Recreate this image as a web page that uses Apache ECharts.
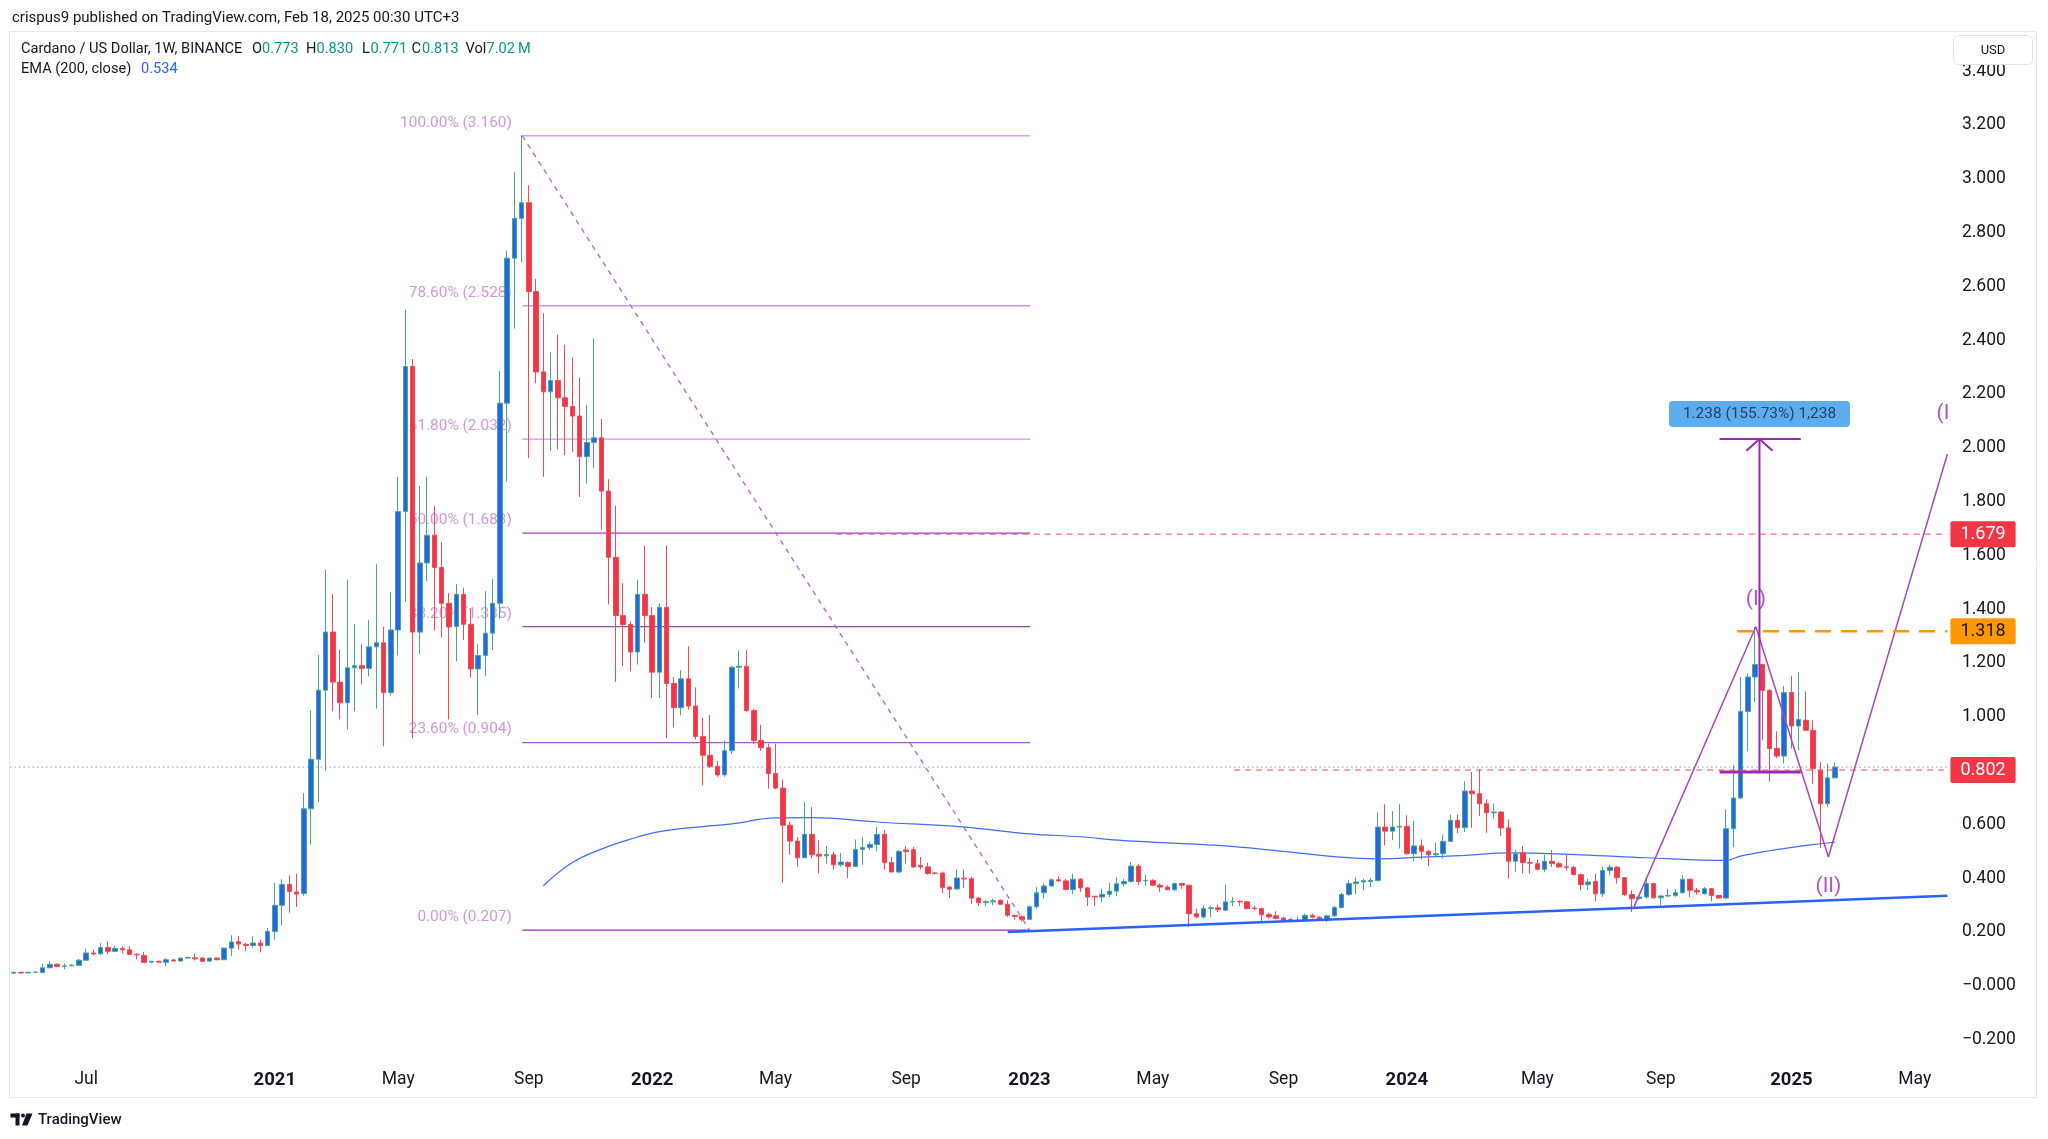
<!DOCTYPE html>
<html><head><meta charset="utf-8">
<script src="https://cdn.jsdelivr.net/npm/echarts@6/dist/echarts.min.js"></script>
<style>html,body{margin:0;padding:0;background:#fff}#c{width:2048px;height:1139px}</style>
</head><body><div id="c"></div>
<script>
// ---------- DATA ----------
const firstWeek = '2020-04-27';      // first weekly bar (Monday)
const weekSlots = 267;               // bars + empty future weeks on the axis
const tickLabels = [
  ['2020-07-06','Jul'],['2021-01-04','2021'],['2021-05-03','May'],['2021-09-06','Sep'],
  ['2022-01-03','2022'],['2022-05-02','May'],['2022-09-05','Sep'],['2023-01-02','2023'],
  ['2023-05-01','May'],['2023-09-04','Sep'],['2024-01-01','2024'],['2024-05-06','May'],
  ['2024-09-02','Sep'],['2025-01-06','2025'],['2025-05-05','May']
];
const opens = [0.047,0.050,0.048,0.050,0.049,0.067,0.080,0.073,0.075,0.076,
0.095,0.122,0.119,0.142,0.128,0.139,0.134,0.117,0.113,0.088,
0.091,0.087,0.096,0.092,0.103,0.104,0.103,0.092,0.103,0.097,
0.140,0.164,0.154,0.150,0.159,0.150,0.202,0.299,0.377,0.349,
0.343,0.658,0.842,1.099,1.315,1.129,1.052,1.182,1.190,1.180,
1.260,1.275,1.090,1.323,1.763,2.302,1.315,1.572,1.675,1.555,
1.422,1.336,1.455,1.344,1.178,1.228,1.311,1.422,2.166,2.705,
2.853,2.911,2.581,2.282,2.208,2.250,2.186,2.154,2.118,1.967,
2.020,2.037,1.839,1.593,1.376,1.343,1.241,1.455,1.376,1.166,
1.407,1.124,1.034,1.141,1.040,0.927,0.857,0.816,0.784,0.874,
1.184,1.188,1.023,0.912,0.885,0.789,0.735,0.597,0.538,0.476,
0.563,0.489,0.483,0.487,0.450,0.458,0.444,0.507,0.514,0.525,
0.563,0.458,0.423,0.505,0.506,0.448,0.442,0.419,0.419,0.367,
0.360,0.400,0.398,0.326,0.309,0.312,0.318,0.303,0.262,0.257,
0.247,0.294,0.346,0.371,0.394,0.390,0.358,0.396,0.364,0.333,
0.330,0.340,0.352,0.379,0.388,0.445,0.390,0.392,0.374,0.367,
0.357,0.380,0.374,0.268,0.256,0.287,0.290,0.281,0.312,0.314,
0.312,0.289,0.287,0.266,0.260,0.252,0.246,0.244,0.243,0.262,
0.255,0.243,0.260,0.291,0.339,0.380,0.386,0.388,0.391,0.590,
0.575,0.590,0.593,0.491,0.520,0.500,0.487,0.491,0.537,0.615,
0.588,0.724,0.714,0.677,0.643,0.646,0.587,0.463,0.495,0.458,
0.454,0.433,0.463,0.454,0.442,0.440,0.413,0.376,0.388,0.342,
0.429,0.441,0.402,0.339,0.324,0.330,0.380,0.327,0.334,0.336,
0.346,0.396,0.355,0.342,0.361,0.336,0.326,0.584,0.698,1.020,
1.148,1.194,1.098,0.882,0.854,1.090,0.966,0.987,0.950,0.801,
0.677,0.773];
const closes = [0.050,0.048,0.050,0.051,0.067,0.080,0.072,0.074,0.077,0.095,
0.122,0.118,0.142,0.128,0.139,0.134,0.117,0.115,0.087,0.091,
0.088,0.097,0.092,0.103,0.105,0.100,0.091,0.103,0.097,0.140,
0.163,0.155,0.150,0.159,0.150,0.202,0.299,0.377,0.351,0.341,
0.658,0.842,1.099,1.315,1.129,1.052,1.182,1.190,1.180,1.260,
1.275,1.090,1.323,1.763,2.302,1.315,1.572,1.675,1.555,1.422,
1.334,1.455,1.344,1.178,1.228,1.311,1.422,2.166,2.705,2.853,
2.911,2.581,2.282,2.208,2.250,2.186,2.154,2.118,1.967,2.020,
2.037,1.839,1.593,1.376,1.343,1.241,1.455,1.376,1.166,1.407,
1.124,1.034,1.141,1.040,0.927,0.857,0.816,0.784,0.874,1.184,
1.188,1.023,0.912,0.885,0.789,0.735,0.597,0.538,0.476,0.563,
0.487,0.482,0.488,0.450,0.460,0.444,0.507,0.514,0.525,0.563,
0.458,0.423,0.500,0.499,0.442,0.442,0.417,0.418,0.365,0.359,
0.401,0.397,0.326,0.309,0.313,0.316,0.303,0.262,0.257,0.247,
0.294,0.346,0.371,0.394,0.390,0.358,0.396,0.364,0.330,0.330,
0.340,0.352,0.379,0.388,0.445,0.388,0.392,0.374,0.367,0.357,
0.380,0.374,0.268,0.256,0.287,0.290,0.283,0.312,0.314,0.312,
0.287,0.287,0.264,0.256,0.250,0.243,0.244,0.242,0.262,0.255,
0.246,0.260,0.291,0.339,0.380,0.386,0.391,0.392,0.590,0.575,
0.590,0.593,0.491,0.520,0.500,0.487,0.491,0.537,0.615,0.588,
0.724,0.714,0.677,0.643,0.646,0.587,0.463,0.491,0.458,0.456,
0.433,0.463,0.454,0.442,0.440,0.413,0.376,0.386,0.342,0.429,
0.441,0.402,0.339,0.324,0.330,0.380,0.327,0.334,0.336,0.346,
0.396,0.355,0.349,0.361,0.336,0.326,0.584,0.698,1.020,1.148,
1.194,1.098,0.882,0.854,1.090,0.966,0.990,0.950,0.807,0.677,
0.773,0.813];
const highs = [0.053,0.051,0.054,0.053,0.082,0.091,0.083,0.083,0.080,0.100,
0.138,0.134,0.159,0.165,0.149,0.147,0.147,0.121,0.126,0.093,
0.093,0.103,0.100,0.106,0.109,0.120,0.107,0.106,0.105,0.143,
0.188,0.185,0.160,0.184,0.171,0.215,0.383,0.396,0.411,0.417,
0.716,1.023,1.230,1.547,1.455,1.250,1.510,1.345,1.270,1.360,
1.567,1.335,1.464,1.892,2.513,2.330,1.859,1.892,1.783,1.650,
1.460,1.494,1.480,1.400,1.270,1.467,1.512,2.285,2.733,3.024,
3.162,2.976,2.628,2.500,2.357,2.421,2.383,2.336,2.261,2.159,
2.406,2.107,1.883,1.785,1.497,1.354,1.510,1.636,1.408,1.422,
1.636,1.147,1.173,1.262,1.109,0.996,1.006,0.836,0.912,1.190,
1.247,1.247,1.030,0.970,0.900,0.900,0.767,0.609,0.553,0.683,
0.665,0.541,0.520,0.497,0.494,0.463,0.544,0.553,0.535,0.590,
0.578,0.479,0.504,0.520,0.516,0.479,0.458,0.423,0.425,0.370,
0.433,0.433,0.404,0.330,0.318,0.324,0.321,0.318,0.264,0.262,
0.299,0.367,0.380,0.398,0.407,0.398,0.417,0.401,0.367,0.333,
0.361,0.383,0.404,0.398,0.460,0.454,0.413,0.396,0.380,0.373,
0.383,0.383,0.374,0.287,0.299,0.297,0.302,0.376,0.330,0.318,
0.315,0.297,0.290,0.272,0.277,0.256,0.252,0.256,0.268,0.268,
0.259,0.264,0.297,0.346,0.392,0.404,0.398,0.401,0.644,0.675,
0.649,0.675,0.634,0.613,0.544,0.504,0.532,0.562,0.636,0.636,
0.760,0.795,0.805,0.693,0.677,0.649,0.619,0.507,0.520,0.475,
0.470,0.487,0.504,0.460,0.487,0.445,0.417,0.398,0.417,0.442,
0.450,0.445,0.404,0.355,0.336,0.398,0.383,0.336,0.361,0.359,
0.411,0.398,0.364,0.367,0.364,0.339,0.656,0.820,1.148,1.161,
1.334,1.197,1.102,0.946,1.115,1.152,1.167,1.095,0.987,0.832,
0.826,0.830];
const lows = [0.045,0.044,0.046,0.049,0.048,0.066,0.069,0.061,0.072,0.075,
0.093,0.113,0.114,0.117,0.126,0.120,0.115,0.098,0.085,0.084,
0.086,0.072,0.090,0.090,0.100,0.094,0.088,0.088,0.095,0.096,
0.110,0.134,0.128,0.142,0.124,0.148,0.171,0.225,0.272,0.293,
0.335,0.525,0.683,0.800,1.020,0.990,0.953,1.020,1.120,1.150,
1.030,0.890,1.079,1.228,1.427,0.920,1.234,1.505,1.320,1.295,
0.990,1.206,1.285,1.145,1.007,1.152,1.248,1.364,1.875,2.443,
2.689,1.962,2.240,1.892,1.988,1.994,1.973,1.984,1.817,1.867,
1.924,1.696,1.418,1.130,1.188,1.169,1.194,1.275,1.070,1.070,
0.921,0.960,1.006,1.027,0.916,0.746,0.810,0.777,0.776,0.863,
1.105,1.019,0.899,0.874,0.733,0.730,0.383,0.487,0.442,0.475,
0.473,0.417,0.454,0.432,0.442,0.401,0.442,0.450,0.504,0.500,
0.433,0.423,0.420,0.454,0.438,0.433,0.413,0.413,0.345,0.326,
0.355,0.364,0.305,0.297,0.295,0.299,0.302,0.256,0.246,0.240,
0.246,0.287,0.324,0.371,0.386,0.355,0.340,0.349,0.297,0.297,
0.311,0.330,0.334,0.368,0.383,0.376,0.371,0.371,0.349,0.355,
0.352,0.361,0.219,0.250,0.250,0.256,0.274,0.277,0.297,0.297,
0.284,0.281,0.235,0.250,0.247,0.237,0.235,0.237,0.241,0.250,
0.242,0.237,0.256,0.287,0.334,0.339,0.355,0.367,0.388,0.522,
0.541,0.510,0.487,0.463,0.470,0.445,0.479,0.473,0.535,0.568,
0.572,0.588,0.631,0.569,0.621,0.557,0.398,0.423,0.417,0.417,
0.430,0.423,0.442,0.438,0.428,0.411,0.355,0.357,0.314,0.330,
0.411,0.380,0.334,0.274,0.320,0.324,0.324,0.299,0.330,0.330,
0.343,0.330,0.339,0.339,0.314,0.324,0.324,0.516,0.695,0.872,
1.055,0.913,0.760,0.847,0.826,0.882,0.875,0.950,0.751,0.512,
0.665,0.771];
// EMA(200) read at sample bars: [bar index, value]
const emaPoints = [[73,0.372],[77,0.458],[81,0.508],[85,0.545],[89,0.573],[95,0.592],[99,0.602],
  [105,0.624],[110,0.625],[119,0.609],[131,0.590],[140,0.565],[147,0.554],[153,0.540],[166,0.522],
  [175,0.500],[182,0.480],[188,0.472],[194,0.478],[200,0.485],[206,0.494],[216,0.487],[225,0.476],
  [236,0.466],[238,0.482],[242,0.502],[246,0.518],[249,0.528],[251,0.534]];
// Fibonacci retracement
const fibFrom = 70.1, fibTo = 140.1;
const fibLevels = [['100.00%',3.160],['78.60%',2.528],['61.80%',2.032],['50.00%',1.683],['38.20%',1.335],['23.60%',0.904],['0.00%',0.207]];
const fibTrend = [[70.1,3.160],[140.0,0.207]];
// horizontal levels
const levelRed1 = [[113.3,1.679],[266.5,1.679]];
const levelOrange = [[237.5,1.318],[266.5,1.318]];
const levelRed2 = [[168.2,0.802],[266.5,0.802]];
const lastPriceLine = [[-0.5,0.813],[266.5,0.813]];
const supportLine = [[137.0,0.200],[266.5,0.335]];
const waveLine = [[223.2,0.286],[240.1,1.335],[250.1,0.479],[266.5,1.977]];
const waveLabels = [[240.1,1.435,'(I)'],[250.1,0.370,'(II)'],[265.9,2.126,'(I']];
// measure tool
const measureShaft = [[240.6,0.795],[240.6,2.033]];
const measureTop = [[235.1,2.033],[246.3,2.033]];
const measureBottom = [[235.1,0.795],[246.3,0.795]];
const measureHead = [[238.8,1.989],[240.6,2.033],[242.4,1.989]];
const measureLabel = [240.6,2.126,'1.238 (155.73%) 1,238'];

// ---------- BUILD ----------
const weeks = [];
const t0 = Date.parse(firstWeek + 'T00:00:00Z');
for (let i = 0; i < weekSlots; i++) weeks.push(new Date(t0 + i * 7 * 86400000).toISOString().slice(0, 10));
const labelMap = {};
tickLabels.forEach(([d, t]) => labelMap[d] = t);
const candles = opens.map((o, i) => [o, closes[i], lows[i], highs[i]]);

const FONT = 'Roboto, "Liberation Sans", sans-serif';
const fmtPrice = v => {
  if (Math.abs(v) < 1e-9) return '\u22120.000';
  return v < 0 ? '\u2212' + Math.abs(v).toFixed(3) : v.toFixed(3);
};
const lineS = (data, color, width, type, extra) => Object.assign({
  type: 'line', xAxisIndex: 1, yAxisIndex: 0, data, symbol: 'none', silent: true,
  animation: false, lineStyle: { color, width, type }, z: 4
}, extra || {});
const tag = (bg, fg) => ({
  show: true, formatter: p => p.value[1].toFixed(3), backgroundColor: bg, color: fg,
  fontSize: 18, fontFamily: FONT, padding: [3, 10, 2, 10], distance: 3, lineHeight: 21, borderRadius: 2
});

const series = [];
series.push({
  type: 'candlestick', xAxisIndex: 0, yAxisIndex: 0, data: candles, barWidth: 5, z: 3,
  itemStyle: { color: '#2466e6', color0: '#f23645', borderColor: '#45a98c', borderColor0: '#f24a58', borderWidth: 1 }
});
// fib lines + labels
const fibColors = ['#d6a3e3','#d29ae0','#cf93dd','#a63fc0','#8d4fa3','#ad52c8','#9c27b0'];
fibLevels.forEach(([pct, v], k) => {
  series.push(lineS([[fibFrom, v], [fibTo, v]], fibColors[k], 1.3, 'solid', { z: 1 }));
});
series.push({
  type: 'scatter', xAxisIndex: 1, yAxisIndex: 0, symbolSize: 1, silent: true, z: 1,
  itemStyle: { color: 'rgba(0,0,0,0)' },
  data: fibLevels.map(([pct, v]) => ({ value: [fibFrom, v], name: pct + ' (' + v.toFixed(3) + ')' })),
  label: { show: true, position: 'left', distance: 10, offset: [0, -13], formatter: p => p.name,
    color: '#c47dd6', fontSize: 15.4, fontFamily: FONT }
});
series.push(lineS(fibTrend, '#b56ad2', 1.4, [5, 5]));
// ema
series.push(lineS(emaPoints, '#3f6cff', 1.2, 'solid', { smooth: 0.4, z: 2 }));
// level lines
series.push(lineS(lastPriceLine, '#7f93ff', 1, [1.5, 3], { z: 2 }));
series.push(lineS(levelRed1, '#ea4f5f', 1, [6, 5], { endLabel: tag('#f23645', '#ffffff'), z: 5 }));
series.push(lineS(levelRed2, '#ea4f5f', 1, [6, 5], { endLabel: tag('#f23645', '#ffffff'), z: 5 }));
series.push(lineS(levelOrange, '#ff9800', 2.5, [16, 10], { endLabel: tag('#ff9800', '#131722'), z: 5 }));
series.push(lineS(supportLine, '#2962ff', 2.5, 'solid'));
series.push(lineS(waveLine, '#ab47bc', 1.5, 'solid'));
series.push(lineS(measureShaft, '#9c27b0', 2, 'solid'));
series.push(lineS(measureTop, '#9c27b0', 2, 'solid'));
series.push(lineS(measureBottom, '#9c27b0', 3, 'solid'));
series.push(lineS(measureHead, '#9c27b0', 2, 'solid'));
series.push({
  type: 'scatter', xAxisIndex: 1, yAxisIndex: 0, symbolSize: 1, silent: true, z: 6,
  itemStyle: { color: 'rgba(0,0,0,0)' },
  data: waveLabels.map(([x, y, t]) => ({ value: [x, y], name: t })),
  label: { show: true, position: 'inside', formatter: p => p.name, color: '#9c27b0', fontSize: 21, fontFamily: FONT }
});
series.push({
  type: 'scatter', xAxisIndex: 1, yAxisIndex: 0, symbolSize: 1, silent: true, z: 6,
  itemStyle: { color: 'rgba(0,0,0,0)' },
  data: [{ value: [measureLabel[0], measureLabel[1]], name: measureLabel[2] }],
  label: { show: true, position: 'inside', formatter: p => p.name, color: '#14243a', fontSize: 15.4,
    fontFamily: FONT, backgroundColor: '#3497ea', padding: [6, 14, 5, 14], borderRadius: 4 }
});

const chart = echarts.init(document.getElementById('c'), null, { renderer: 'canvas' });
chart.setOption({
  animation: false,
  backgroundColor: '#ffffff',
  grid: { left: 10, right: 100.6, top: 71.2, bottom: 99.4, containLabel: false },
  xAxis: [
    { type: 'category', data: weeks, gridIndex: 0, boundaryGap: true,
      axisLine: { show: false }, axisTick: { show: false }, splitLine: { show: false },
      axisLabel: {
        interval: (idx, val) => labelMap[val] !== undefined,
        formatter: val => { const t = labelMap[val] || ''; return /^\d{4}$/.test(t) ? '{y|' + t + '}' : '{m|' + t + '}'; },
        margin: 31,
        rich: { y: { fontWeight: 'bold', fontSize: 18.5, color: '#131722', fontFamily: FONT },
                m: { fontSize: 17.5, color: '#131722', fontFamily: FONT } }
      } },
    { type: 'value', gridIndex: 0, min: -0.5, max: 266.5, show: false }
  ],
  yAxis: [{
    type: 'value', position: 'right', min: -0.2, max: 3.4, interval: 0.2,
    axisLine: { show: false }, axisTick: { show: false }, splitLine: { show: false },
    axisLabel: { margin: 14.5, color: '#131722', fontSize: 17.5, fontFamily: FONT, formatter: fmtPrice }
  }],
  series,
  graphic: [
    { type: 'rect', z: 0, silent: true, shape: { x: 9.5, y: 31.5, width: 2027, height: 1066 },
      style: { fill: 'none', stroke: '#e6e8ee', lineWidth: 1 } },
    { type: 'text', z: 50, x: 12, y: 18, style: { text: 'crispus9 published on TradingView.com, Feb 18, 2025 00:30 UTC+3', fontSize: 15, fontFamily: FONT, fill: '#131722', verticalAlign: 'middle' } },
    { type: 'text', z: 50, x: 21, y: 49, style: { text: 'Cardano / US Dollar, 1W, BINANCE', fontSize: 14.6, fontFamily: FONT, fill: '#131722', verticalAlign: 'middle' } },
    { type: 'text', z: 50, x: 252, y: 49, style: { text: 'O', fontSize: 14.6, fontFamily: FONT, fill: '#131722', verticalAlign: 'middle' } },
    { type: 'text', z: 50, x: 262, y: 49, style: { text: '0.773', fontSize: 14.6, fontFamily: FONT, fill: '#089981', verticalAlign: 'middle' } },
    { type: 'text', z: 50, x: 306, y: 49, style: { text: 'H', fontSize: 14.6, fontFamily: FONT, fill: '#131722', verticalAlign: 'middle' } },
    { type: 'text', z: 50, x: 316.5, y: 49, style: { text: '0.830', fontSize: 14.6, fontFamily: FONT, fill: '#089981', verticalAlign: 'middle' } },
    { type: 'text', z: 50, x: 362, y: 49, style: { text: 'L', fontSize: 14.6, fontFamily: FONT, fill: '#131722', verticalAlign: 'middle' } },
    { type: 'text', z: 50, x: 370.5, y: 49, style: { text: '0.771', fontSize: 14.6, fontFamily: FONT, fill: '#089981', verticalAlign: 'middle' } },
    { type: 'text', z: 50, x: 411.5, y: 49, style: { text: 'C', fontSize: 14.6, fontFamily: FONT, fill: '#131722', verticalAlign: 'middle' } },
    { type: 'text', z: 50, x: 422, y: 49, style: { text: '0.813', fontSize: 14.6, fontFamily: FONT, fill: '#089981', verticalAlign: 'middle' } },
    { type: 'text', z: 50, x: 465.5, y: 49, style: { text: 'Vol', fontSize: 14.6, fontFamily: FONT, fill: '#131722', verticalAlign: 'middle' } },
    { type: 'text', z: 50, x: 486.5, y: 49, style: { text: '7.02\u2009M', fontSize: 14.6, fontFamily: FONT, fill: '#089981', verticalAlign: 'middle' } },
    { type: 'text', z: 50, x: 21, y: 69.5, style: { text: 'EMA (200, close)', fontSize: 14.6, fontFamily: FONT, fill: '#131722', verticalAlign: 'middle' } },
    { type: 'text', z: 50, x: 141, y: 69.5, style: { text: '0.534', fontSize: 14.6, fontFamily: FONT, fill: '#2962ff', verticalAlign: 'middle' } },
    { type: 'rect', z: 100, silent: true, shape: { x: 1953.5, y: 35.5, width: 79, height: 29, r: 5 },
      style: { fill: '#ffffff', stroke: '#e0e3eb', lineWidth: 1 } },
    { type: 'text', z: 101, x: 1993, y: 50.5, style: { text: 'USD', fontSize: 13, fontFamily: FONT, fill: '#131722', align: 'center', verticalAlign: 'middle' } },
    // TradingView footer logo
    { type: 'rect', z: 50, shape: { x: 10.5, y: 1113.5, width: 9, height: 4 }, style: { fill: '#131722' } },
    { type: 'rect', z: 50, shape: { x: 15.5, y: 1113.5, width: 4, height: 12 }, style: { fill: '#131722' } },
    { type: 'circle', z: 50, shape: { cx: 23, cy: 1115.5, r: 2 }, style: { fill: '#131722' } },
    { type: 'polygon', z: 50, shape: { points: [[26.5,1113.5],[32.5,1113.5],[27.5,1125.5],[22,1125.5]] }, style: { fill: '#131722' } },
    { type: 'text', z: 50, x: 38, y: 1120, style: { text: 'TradingView', fontSize: 15, fontWeight: 500, fontFamily: FONT, fill: '#131722', verticalAlign: 'middle' } }
  ]
});
</script>
</body></html>
